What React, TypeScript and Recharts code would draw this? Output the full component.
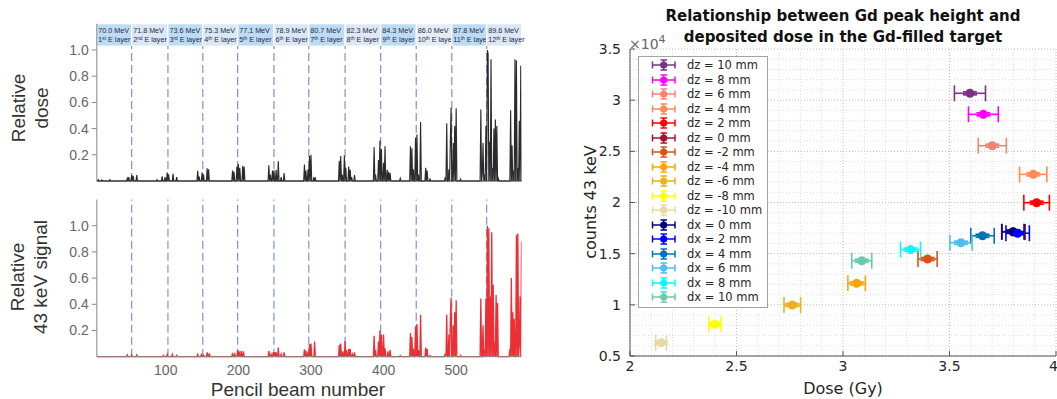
import React from 'react'
import {
  LineChart, Line, XAxis, YAxis, ReferenceLine, ReferenceArea,
  ScatterChart, Scatter, ErrorBar, CartesianGrid, ZAxis, Legend,
} from 'recharts'

// ---- left panels: pencil beam spikes (beam number -> relative value), zero elsewhere
const doseBeams = [
  7, 12, 23,
  47, 49, 53, 55, 60,
  88, 95, 99, 102, 104, 110, 115,
  144, 146, 150, 152, 157, 159,
  192, 194, 198, 200, 202, 206, 208,
  242, 244, 247, 249, 252, 255, 259, 263,
  291, 293, 296, 298, 300, 304, 306,
  339, 341, 343, 346, 348, 352, 354, 356, 360,
  387, 389, 393, 395, 397, 400, 402, 405, 407, 409, 423,
  437, 439, 441, 444, 446, 448, 451, 458, 460, 464,
  485, 487, 490, 492, 493, 496, 498, 500, 506,
  534, 536, 537, 539, 541, 543, 544, 546, 548, 550, 552, 554, 556, 558,
  575, 577, 579, 581, 583, 585, 587, 589,
]
const doseValues = [
  0.01, 0.008, 0.01,
  0.02, 0.03, 0.045, 0.04, 0.045,
  0.01, 0.035, 0.03, 0.065, 0.05, 0.055, 0.03,
  0.077, 0.033, 0.064, 0.05, 0.097, 0.09,
  0.08, 0.07, 0.11, 0.13, 0.1, 0.115, 0.11,
  0.12, 0.05, 0.08, 0.08, 0.085, 0.15, 0.03, 0.06,
  0.125, 0.08, 0.09, 0.19, 0.2, 0.03, 0.02,
  0.155, 0.19, 0.05, 0.195, 0.1, 0.11, 0.085, 0.03, 0.045,
  0.26, 0.05, 0.16, 0.31, 0.245, 0.14, 0.265, 0.085, 0.07, 0.06, 0.02,
  0.265, 0.25, 0.09, 0.33, 0.355, 0.05, 0.45, 0.1, 0.08, 0.015,
  0.03, 0.44, 0.09, 0.315, 0.56, 0.29, 0.42, 0.555, 0.015,
  0.545, 0.05, 0.29, 0.05, 0.42, 1.0, 0.97, 0.3, 0.93, 0.1, 0.4, 0.47, 0.42, 0.02,
  0.54, 0.27, 0.08, 0.93, 0.92, 0.1, 0.46, 0.88,
]
const signalBeams = [
  47, 53, 60,
  97, 102, 109, 115,
  144, 149, 152, 157, 160,
  192, 195, 199, 201, 204, 207,
  242, 245, 248, 250, 252, 255, 259, 263,
  291, 293, 296, 298, 300, 305,
  339, 341, 344, 347, 349, 352, 354, 357, 360,
  387, 389, 393, 395, 397, 400, 402, 406, 409, 423,
  437, 439, 441, 444, 446, 448, 451, 458, 460, 464,
  485, 487, 490, 492, 493, 496, 498, 500, 506,
  534, 537, 539, 541, 543, 545, 547, 549, 551, 553, 555, 557,
  574, 576, 578, 580, 583, 585, 587, 588, 590,
]
const signalValues = [
  0.013, 0.013, 0.013,
  0.01, 0.018, 0.018, 0.01,
  0.018, 0.015, 0.012, 0.033, 0.025,
  0.03, 0.02, 0.05, 0.04, 0.045, 0.04,
  0.043, 0.02, 0.033, 0.035, 0.033, 0.07, 0.02, 0.033,
  0.056, 0.045, 0.038, 0.094, 0.1, 0.115,
  0.09, 0.1, 0.04, 0.12, 0.05, 0.06, 0.06, 0.02, 0.033,
  0.16, 0.05, 0.115, 0.2, 0.17, 0.17, 0.065, 0.04, 0.05, 0.008,
  0.18, 0.15, 0.06, 0.23, 0.25, 0.05, 0.32, 0.07, 0.06, 0.008,
  0.025, 0.32, 0.17, 0.285, 0.45, 0.24, 0.34, 0.43, 0.01,
  0.445, 0.24, 0.05, 0.445, 1.0, 0.98, 0.46, 0.95, 0.55, 0.11, 0.47, 0.41,
  0.06, 0.6, 0.34, 0.29, 0.93, 0.94, 0.09, 0.46, 0.88,
]

const firstBeam = 5
const lastBeam = 590
const layerEdges = [5, 53, 103, 151, 199, 249, 297, 347, 396, 445, 494, 542, 590]
const layerEnergies = ['70.0', '71.8', '73.6', '75.3', '77.1', '78.9', '80.7', '82.3', '84.3', '86.0', '87.8', '89.6']
const layerNumbers = ['1', '2', '3', '4', '5', '6', '7', '8', '9', '10', '11', '12']
const layerSuffixes = ['st', 'nd', 'rd', 'th', 'th', 'th', 'th', 'th', 'th', 'th', 'th', 'th']
const layerFills = ['#bcdcf3', '#dae7f5', '#bcdcf3', '#dae7f5', '#bcdcf3', '#dae7f5', '#bcdcf3', '#dfe7f3', '#bcdcf3', '#e6ecf5', '#bcdcf3', '#dae7f5']
const relTicks = [0.2, 0.4, 0.6, 0.8, 1.0]
const beamTicks = [100, 200, 300, 400, 500]

// ---- right panel: Gd peak height vs dose
const seriesNames = [
  'dz = 10 mm', 'dz = 8 mm', 'dz = 6 mm', 'dz = 4 mm', 'dz = 2 mm', 'dz = 0 mm',
  'dz = -2 mm', 'dz = -4 mm', 'dz = -6 mm', 'dz = -8 mm', 'dz = -10 mm',
  'dx = 0 mm', 'dx = 2 mm', 'dx = 4 mm', 'dx = 6 mm', 'dx = 8 mm', 'dx = 10 mm',
]
const seriesColors = [
  '#7e2f8e', '#ff00ff', '#fa8072', '#ff8a5c', '#ff0000', '#a2142f',
  '#d95319', '#ffa500', '#edb120', '#ffff00', '#e8d8a6',
  '#000080', '#0000ff', '#0072bd', '#4dbeee', '#00ffff', '#66cdaa',
]
const doseGy = [3.596, 3.659, 3.701, 3.893, 3.909, 3.80, 3.397, 3.064, 2.762, 2.399, 2.146, 3.798, 3.82, 3.655, 3.554, 3.317, 3.088]
const doseErr = [0.073, 0.07, 0.066, 0.064, 0.06, 0.055, 0.045, 0.041, 0.039, 0.029, 0.025, 0.052, 0.055, 0.055, 0.052, 0.047, 0.047]
const counts43 = [3.067, 2.862, 2.555, 2.275, 1.998, 1.712, 1.448, 1.21, 0.998, 0.81, 0.63, 1.715, 1.70, 1.675, 1.607, 1.54, 1.431]
const countsErr = [0.015, 0.015, 0.015, 0.015, 0.015, 0.015, 0.015, 0.015, 0.015, 0.015, 0.015, 0.015, 0.015, 0.015, 0.015, 0.015, 0.015]
const doseTicks = [2, 2.5, 3, 3.5, 4]
const doseMinor = [2.1, 2.2, 2.3, 2.4, 2.6, 2.7, 2.8, 2.9, 3.1, 3.2, 3.3, 3.4, 3.6, 3.7, 3.8, 3.9]
const countTicks = [0.5, 1, 1.5, 2, 2.5, 3, 3.5]
const countMinor = [0.6, 0.7, 0.8, 0.9, 1.1, 1.2, 1.3, 1.4, 1.6, 1.7, 1.8, 1.9, 2.1, 2.2, 2.3, 2.4, 2.6, 2.7, 2.8, 2.9, 3.1, 3.2, 3.3, 3.4]

const beamData: { beam: number; dose: number; signal: number }[] = []
for (let b = firstBeam; b <= lastBeam; b++) beamData.push({ beam: b, dose: 0, signal: 0 })
doseBeams.forEach((b, i) => { beamData[b - firstBeam].dose = doseValues[i] })
signalBeams.forEach((b, i) => { beamData[b - firstBeam].signal = signalValues[i] })

const leftFont = 'Liberation Sans, Arial, sans-serif'
const rightFont = 'DejaVu Sans, sans-serif'
const dashColor = '#7f8fd6'

function LayerLabel(props: any) {
  const { viewBox, i } = props
  if (!viewBox) return null
  const x = viewBox.x + 1.5
  const y = viewBox.y
  return (
    <g fontFamily={leftFont} fontSize={7.2} fill="#1f2a44">
      <text x={x} y={y + 9}>{layerEnergies[i]} MeV</text>
      <text x={x} y={y + 18.5}>
        {layerNumbers[i]}
        <tspan fontSize={4.8} dy={-2.6}>{layerSuffixes[i]}</tspan>
        <tspan dy={2.6}> E layer</tspan>
      </text>
    </g>
  )
}

function scaleOf(axis: any, offset: any, lo: number, hi: number, horizontal: boolean) {
  if (axis && typeof axis.scale === 'function') return (v: number) => axis.scale(v)
  if (horizontal) return (v: number) => offset.left + ((v - lo) / (hi - lo)) * offset.width
  return (v: number) => offset.top + offset.height - ((v - lo) / (hi - lo)) * offset.height
}

function GdLegend() {
  return (
    <div style={{ border: '1px solid #a3a3a3', background: '#fff', width: 128, padding: '1px 0 2px 0', fontFamily: rightFont, fontSize: 11.5, color: '#262626' }}>
      {seriesNames.map((name, i) => (
        <div key={name} style={{ height: 14.5, display: 'flex', alignItems: 'center' }}>
          <svg width={48} height={14} style={{ flex: 'none' }}>
            <g stroke={seriesColors[i]} strokeWidth={1.5}>
              <line x1={13.5} y1={7} x2={36} y2={7} />
              <line x1={13.5} y1={3.5} x2={13.5} y2={10.5} />
              <line x1={36} y1={3.5} x2={36} y2={10.5} />
              <line x1={24.7} y1={2} x2={24.7} y2={12} />
              <line x1={21.5} y1={2} x2={28} y2={2} />
              <line x1={21.5} y1={12} x2={28} y2={12} />
            </g>
            <circle cx={24.7} cy={7} r={3.6} fill={seriesColors[i]} />
          </svg>
          <span style={{ marginLeft: 0, whiteSpace: 'nowrap' }}>{name}</span>
        </div>
      ))}
    </div>
  )
}

const rotated = (left: number, top: number): React.CSSProperties => ({
  position: 'absolute', left, top, transform: 'translate(-50%, -50%) rotate(-90deg)',
  whiteSpace: 'nowrap', textAlign: 'center',
})

export default function App() {
  return (
    <div style={{ position: 'absolute', left: 0, top: 0, width: 1057, height: 399, background: '#fff', overflow: 'hidden' }}>
      {/* top-left: relative dose */}
      <div style={{ position: 'absolute', left: 0, top: 0 }}>
        <LineChart width={540} height={190} data={beamData} margin={{ top: 23.8, right: 18.5, bottom: 8, left: 56.8 }}>
          <XAxis dataKey="beam" type="number" domain={[firstBeam, lastBeam]} allowDataOverflow height={1} tick={false} tickLine={false} axisLine={{ stroke: '#333', strokeWidth: 1.2 }} />
          <YAxis type="number" domain={[0, 1.2]} ticks={relTicks} width={40} tickFormatter={(v: number) => v.toFixed(1)}
            tick={{ fill: '#666', fontSize: 14, fontFamily: leftFont }} tickSize={5} tickMargin={3}
            tickLine={{ stroke: '#888' }} axisLine={{ stroke: '#888' }} />
          {layerEnergies.map((e, i) => (
            <ReferenceArea key={e} x1={layerEdges[i]} x2={layerEdges[i + 1]} y1={1.03} y2={1.2}
              fill={layerFills[i]} fillOpacity={1} stroke="#fff" strokeWidth={1}
              label={(p: any) => <LayerLabel {...p} i={i} />} />
          ))}
          {layerEdges.slice(1, -1).map((b) => (
            <ReferenceLine key={b} segment={[{ x: b, y: 0 }, { x: b, y: 1.03 }]} stroke={dashColor} strokeWidth={1.2} strokeDasharray="8 4" />
          ))}
          <Line type="linear" dataKey="dose" stroke="#2b2b2b" strokeWidth={1.15} dot={false} isAnimationActive={false} />
        </LineChart>
      </div>
      <div style={{ ...rotated(30, 108), fontFamily: leftFont, fontSize: 19, lineHeight: '23px', color: '#333' }}>
        Relative<br />dose
      </div>

      {/* bottom-left: relative 43 keV signal */}
      <div style={{ position: 'absolute', left: 0, top: 190 }}>
        <LineChart width={540} height={209} data={beamData} margin={{ top: 9.5, right: 18.5, bottom: 20.3, left: 56.8 }}>
          <XAxis dataKey="beam" type="number" domain={[firstBeam, lastBeam]} allowDataOverflow ticks={beamTicks} height={22}
            tick={{ fill: '#666', fontSize: 14, fontFamily: leftFont }} tickLine={false} tickSize={0} tickMargin={8}
            axisLine={{ stroke: '#888' }} />
          <YAxis type="number" domain={[0, 1.2]} ticks={relTicks} width={40} tickFormatter={(v: number) => v.toFixed(1)}
            tick={{ fill: '#666', fontSize: 14, fontFamily: leftFont }} tickSize={5} tickMargin={3}
            tickLine={{ stroke: '#888' }} axisLine={{ stroke: '#888' }} />
          {layerEdges.slice(1, -1).map((b) => (
            <ReferenceLine key={b} x={b} stroke={dashColor} strokeWidth={1.2} strokeDasharray="8 4" />
          ))}
          <Line type="linear" dataKey="signal" stroke="#ec2f34" strokeWidth={1.3} dot={false} isAnimationActive={false} />
        </LineChart>
      </div>
      <div style={{ ...rotated(29, 277), fontFamily: leftFont, fontSize: 19, lineHeight: '23px', color: '#333' }}>
        Relative<br />43 keV signal
      </div>
      <div style={{ position: 'absolute', left: 298, top: 390, transform: 'translate(-50%, -50%)', fontFamily: leftFont, fontSize: 19, color: '#333', whiteSpace: 'nowrap' }}>
        Pencil beam number
      </div>

      {/* right: Gd peak height vs dose */}
      <div style={{ position: 'absolute', left: 593, top: 6, width: 500, textAlign: 'center', fontFamily: rightFont, fontWeight: 'bold', fontSize: 15, lineHeight: '21px', color: '#111' }}>
        Relationship between Gd peak height and<br />deposited dose in the Gd-filled target
      </div>
      <div style={{ position: 'absolute', left: 629, top: 33, fontFamily: rightFont, fontSize: 14, color: '#666', whiteSpace: 'nowrap' }}>
        ×10<sup style={{ fontSize: 11 }}>4</sup>
      </div>
      <div style={{ position: 'absolute', left: 560, top: 0 }}>
        <ScatterChart width={497} height={399} margin={{ top: 49, right: 1, bottom: 13, left: 30 }}>
          <CartesianGrid stroke="#dedede" strokeDasharray="1 2"
            verticalCoordinatesGenerator={({ xAxis, offset }: any) => doseMinor.map(scaleOf(xAxis, offset, 2, 4, true))}
            horizontalCoordinatesGenerator={({ yAxis, offset }: any) => countMinor.map(scaleOf(yAxis, offset, 0.5, 3.5, false))} />
          <CartesianGrid stroke="#bdbdbd" strokeDasharray="1 2" />
          <XAxis dataKey="x" type="number" domain={[2, 4]} ticks={doseTicks} height={30}
            tick={{ fill: '#262626', fontSize: 14, fontFamily: rightFont }} tickSize={-5} tickMargin={10}
            tickLine={{ stroke: '#555' }} axisLine={{ stroke: '#555' }} />
          <XAxis xAxisId="top" orientation="top" type="number" domain={[2, 4]} ticks={doseTicks} height={0}
            tickFormatter={() => ''} tickSize={-5} tickLine={{ stroke: '#555' }} axisLine={{ stroke: '#555' }} />
          <YAxis dataKey="y" type="number" domain={[0.5, 3.5]} ticks={countTicks} width={40}
            tick={{ fill: '#262626', fontSize: 14, fontFamily: rightFont }} tickSize={-5} tickMargin={14}
            tickLine={{ stroke: '#555' }} axisLine={{ stroke: '#555' }} />
          <YAxis yAxisId="right" orientation="right" type="number" domain={[0.5, 3.5]} ticks={countTicks} width={0}
            tickFormatter={() => ''} tickSize={-5} tickLine={{ stroke: '#555' }} axisLine={{ stroke: '#555' }} />
          <ZAxis range={[52, 52]} />
          <Legend layout="vertical" align="center" verticalAlign="middle" wrapperStyle={{ left: 78, top: 56 }} content={() => <GdLegend />} />
          {seriesNames.map((name, i) => (
            <Scatter key={name} name={name} data={[{ x: doseGy[i], y: counts43[i], ex: doseErr[i], ey: countsErr[i] }]}
              fill={seriesColors[i]} shape="circle" isAnimationActive={false}>
              <ErrorBar dataKey="ex" direction="x" width={8} stroke={seriesColors[i]} strokeWidth={1.6} isAnimationActive={false} />
              <ErrorBar dataKey="ey" direction="y" width={7} stroke={seriesColors[i]} strokeWidth={1.6} isAnimationActive={false} />
            </Scatter>
          ))}
        </ScatterChart>
      </div>
      <div style={{ ...rotated(590, 202), fontFamily: rightFont, fontSize: 16, color: '#262626' }}>counts 43 keV</div>
      <div style={{ position: 'absolute', left: 843, top: 388, transform: 'translate(-50%, -50%)', fontFamily: rightFont, fontSize: 16, color: '#262626', whiteSpace: 'nowrap' }}>
        Dose (Gy)
      </div>
    </div>
  )
}
